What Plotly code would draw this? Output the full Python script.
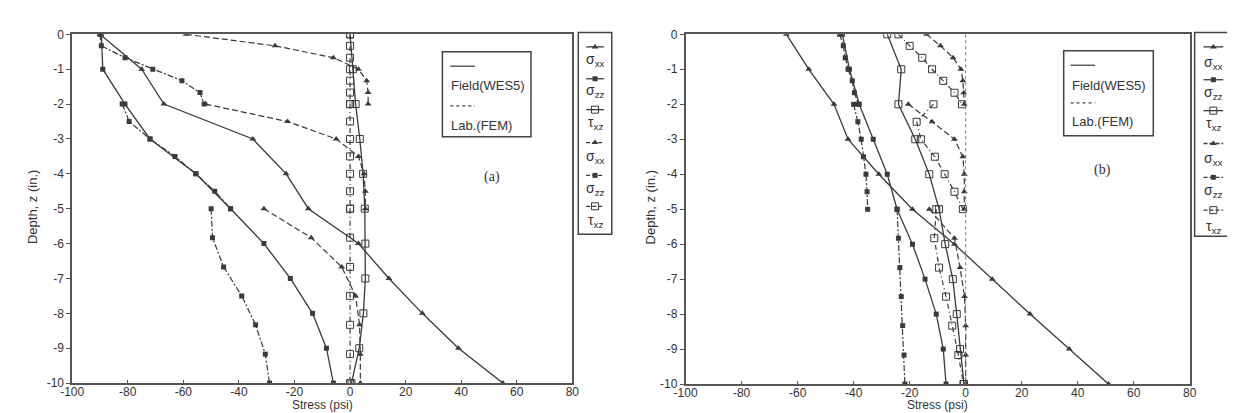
import plotly.graph_objects as go

W, H = 1235, 413

# ---------------- data ----------------
depth_field = [0, -1, -2, -3, -4, -5, -6, -7, -8, -9, -10]
depth_lab_l1 = [0, -0.33, -0.67, -1, -1.33, -1.67, -2]
depth_lab_l2 = [-2, -2.5, -3, -3.5, -4, -4.5, -5]
depth_lab_l3 = [-5, -5.83, -6.67, -7.5, -8.33, -9.17, -10]

# panel (a)
a_field_sxx = [-90, -75, -67, -35, -23, -15, 3, 14, 26, 39, 55]
a_field_szz = [-89.5, -89, -81, -72, -55.5, -43, -31, -21.5, -13.5, -8.5, -6]
a_field_txz = [0, 1, 2, 3.5, 4.7, 5.3, 5.5, 5.5, 4.8, 3.3, 0.5]

a_lab_sxx_l1 = [-59, -27, -6, 3, 6, 6.5, 6.5]
a_lab_sxx_l2 = [-52, -22.5, -5, 3, 5, 5.5, 5.5]
a_lab_sxx_l3 = [-31, -14, -3, 2, 3.4, 3.7, 3.7]
a_lab_szz_l1 = [-90, -89.5, -81, -71, -60.5, -54, -52.5]
a_lab_szz_l2 = [-82, -79.5, -72, -63, -55.5, -48.7, -43]
a_lab_szz_l3 = [-50, -49.5, -45.5, -39, -34, -30.5, -29]
a_lab_txz_l1 = [0, 0, 0, 0, 0, 0, 0]
a_lab_txz_l2 = [0, 0, 0, 0, 0, 0, 0]
a_lab_txz_l3 = [0, 0, 0, 0, 0, 0, 0]

# panel (b)
b_field_sxx = [-64, -56, -47, -42, -31, -19, -4, 9.5, 23, 37, 51]
b_field_szz = [-44, -41.5, -38, -33, -28, -24.5, -19, -14.5, -10.5, -8, -7]
b_field_txz = [-28, -23, -24, -18, -13, -9.5, -7.3, -4.6, -3.2, -2, -0.6]

b_lab_sxx_l1 = [-14, -9, -4.5, -1.7, -1, -0.7, -0.5]
b_lab_sxx_l2 = [-20.5, -12, -4, -1, -0.5, -0.5, -0.5]
b_lab_sxx_l3 = [-13, -4, -2, -0.4, 0, 0, 0]
b_lab_szz_l1 = [-45, -43.7, -43, -42, -40.5, -39.7, -38.3]
b_lab_szz_l2 = [-40, -38.5, -37.3, -36.5, -35.6, -35.2, -35]
b_lab_szz_l3 = [-24.5, -24, -23.5, -23, -22.5, -22, -21.7]
b_lab_txz_l1 = [-24, -20, -15.5, -12, -8, -4, -1.3]
b_lab_txz_l2 = [-11.5, -17.5, -16, -11, -7.5, -4, -1]
b_lab_txz_l3 = [-10.5, -11.2, -9.5, -7, -4.8, -2.6, -0.8]

x_ticks = [-100, -80, -60, -40, -20, 0, 20, 40, 60, 80]
x_tick_labels = ["-100", "-80", "-60", "-40", "-20", "0", "20", "40", "60", "80"]
y_ticks = [0, -1, -2, -3, -4, -5, -6, -7, -8, -9, -10]
y_tick_labels = ["0", "-1", "-2", "-3", "-4", "-5", "-6", "-7", "-8", "-9", "-10"]

legend_labels = ["σ<sub>xx</sub>", "σ<sub>zz</sub>", "τ<sub>xz</sub>",
                 "σ<sub>xx</sub>", "σ<sub>zz</sub>", "τ<sub>xz</sub>"]

# ---------------- styles ----------------
LC = "#3a3a3a"
AX = "#555555"
FONT = "Liberation Sans, Arial, sans-serif"
M_SXX = dict(symbol="triangle-up", size=6, color=LC)
M_SZZ = dict(symbol="square", size=5, color=LC)
M_TXZ = dict(symbol="square-open", size=7, color=LC, line=dict(width=1, color=LC))
D_SXX = "6px,3px"
D_SZZ = "6px,2px,2px,2px"
D_TXZ = "5px,3px,1px,3px"


def layered(l1, l2, l3):
    return l1 + [None] + l2 + [None] + l3


lab_depth = layered(depth_lab_l1, depth_lab_l2, depth_lab_l3)

fig = go.Figure()


def add_panel(xa, ya, fsxx, fszz, ftxz, lsxx, lszz, ltxz):
    for vals, m in ((fsxx, M_SXX), (fszz, M_SZZ), (ftxz, M_TXZ)):
        fig.add_trace(go.Scatter(x=vals, y=depth_field, mode="lines+markers",
                                 line=dict(color=LC, width=1.3), marker=m,
                                 xaxis=xa, yaxis=ya, showlegend=False))
    for vals, m, d in ((lsxx, M_SXX, D_SXX), (lszz, M_SZZ, D_SZZ), (ltxz, M_TXZ, D_TXZ)):
        fig.add_trace(go.Scatter(x=vals, y=lab_depth, mode="lines+markers",
                                 line=dict(color=LC, width=1.2, dash=d), marker=m,
                                 connectgaps=False,
                                 xaxis=xa, yaxis=ya, showlegend=False))


add_panel("x", "y", a_field_sxx, a_field_szz, a_field_txz,
          layered(a_lab_sxx_l1, a_lab_sxx_l2, a_lab_sxx_l3),
          layered(a_lab_szz_l1, a_lab_szz_l2, a_lab_szz_l3),
          layered(a_lab_txz_l1, a_lab_txz_l2, a_lab_txz_l3))
add_panel("x2", "y2", b_field_sxx, b_field_szz, b_field_txz,
          layered(b_lab_sxx_l1, b_lab_sxx_l2, b_lab_sxx_l3),
          layered(b_lab_szz_l1, b_lab_szz_l2, b_lab_szz_l3),
          layered(b_lab_txz_l1, b_lab_txz_l2, b_lab_txz_l3))


def px(x):
    return x / W


def py(y):
    return 1 - y / H


xa_common = dict(range=[-100, 80], tickvals=x_ticks, ticktext=x_tick_labels,
                 ticks="inside", ticklen=3, tickcolor=AX, showline=True, mirror=True,
                 linecolor=AX, linewidth=1.5, showgrid=False, zeroline=False,
                 ticklabelstandoff=-3,
                 tickfont=dict(family=FONT, size=12, color="#333"), fixedrange=True)
ya_common = dict(range=[-10, 0], tickvals=y_ticks, ticktext=y_tick_labels,
                 ticks="outside", ticklen=4, tickcolor=AX, showline=True, mirror=True,
                 linecolor=AX, linewidth=1.5, showgrid=False, zeroline=False,
                 tickfont=dict(family=FONT, size=12, color="#333"), fixedrange=True)

fig.update_layout(
    width=W, height=H,
    margin=dict(l=0, r=0, t=0, b=0),
    paper_bgcolor="white", plot_bgcolor="rgba(0,0,0,0)",
    showlegend=False,
    xaxis=dict(domain=[px(53), px(561)], anchor="y", **xa_common),
    yaxis=dict(domain=[py(381), py(20)], anchor="x", **ya_common),
    xaxis2=dict(domain=[px(676), px(1188)], anchor="y2", **xa_common),
    yaxis2=dict(domain=[py(382), py(20)], anchor="x2", **ya_common),
    xaxis3=dict(domain=[0, 1], range=[0, W], visible=False, anchor="y3", fixedrange=True),
    yaxis3=dict(domain=[0, 1], range=[H, 0], visible=False, anchor="x3", fixedrange=True),
)

shapes = []
annotations = []

# zero reference (dotted) in panel (b)
shapes.append(dict(type="line", xref="x2", yref="y2", x0=0, x1=0, y0=0, y1=-10,
                   line=dict(color="#777", width=1, dash="dot")))

# axis titles
for cx, cy in ((12, 199), (640, 199)):
    annotations.append(dict(text="Depth, z (in.)", x=px(cx), y=py(cy), xref="paper", yref="paper",
                            textangle=-90, showarrow=False, xanchor="center", yanchor="middle",
                            font=dict(family=FONT, size=13, color="#333")))
for cx in (307, 932):
    annotations.append(dict(text="Stress (psi)", x=px(cx), y=py(412.5), xref="paper", yref="paper",
                            showarrow=False, xanchor="center", yanchor="bottom",
                            font=dict(family=FONT, size=12, color="#333")))

# panel labels
annotations.append(dict(text="(a)", x=px(479), y=py(168), xref="paper", yref="paper", showarrow=False,
                        font=dict(family="Liberation Serif, Times New Roman, serif", size=14, color="#333")))
annotations.append(dict(text="(b)", x=px(1110), y=py(160), xref="paper", yref="paper", showarrow=False,
                        font=dict(family="Liberation Serif, Times New Roman, serif", size=14, color="#333")))

# inside legend boxes (Field / Lab)
for (bx0, by0, bx1, by1, lx0, lx1, ly1, ty1, ly2, ty2) in (
        (429, 38, 519, 126, 437, 462, 53, 73, 94, 114),
        (1060, 37, 1151, 125, 1067, 1092, 52, 73, 91, 110)):
    shapes.append(dict(type="rect", xref="paper", yref="paper", x0=px(bx0), x1=px(bx1),
                       y0=py(by1), y1=py(by0), line=dict(color="#444", width=1.5)))
    shapes.append(dict(type="line", xref="paper", yref="paper", x0=px(lx0), x1=px(lx1),
                       y0=py(ly1), y1=py(ly1), line=dict(color="#444", width=1.3)))
    shapes.append(dict(type="line", xref="paper", yref="paper", x0=px(lx0), x1=px(lx1),
                       y0=py(ly2), y1=py(ly2), line=dict(color="#444", width=1.2, dash="dot")))
    annotations.append(dict(text="Field(WES5)", x=px(lx0 - 1), y=py(ty1), xref="paper", yref="paper",
                            showarrow=False, xanchor="left", yanchor="middle",
                            font=dict(family=FONT, size=13, color="#333")))
    annotations.append(dict(text="Lab.(FEM)", x=px(lx0 - 1), y=py(ty2), xref="paper", yref="paper",
                            showarrow=False, xanchor="left", yanchor="middle",
                            font=dict(family=FONT, size=13, color="#333")))

# outside symbol legends
glyph_markers = [M_SXX, M_SZZ, M_TXZ, M_SXX, M_SZZ, M_TXZ]
glyph_dash = ["solid", "solid", "solid", "4px,2px", "4px,2px", "4px,2px"]
for (bx0, by0, bx1, by1, cx, half, sym_y, txt_y) in (
        (567, 18, 601, 227, 584, 9, [33, 66, 98, 132, 166, 198], [47, 79, 112, 147, 180, 213]),
        (1193, 18, 1233, 229, 1212, 10, [33, 67, 99, 133, 168, 202], [50, 81, 113, 149, 182, 219])):
    shapes.append(dict(type="rect", xref="paper", yref="paper", x0=px(bx0), x1=px(bx1),
                       y0=py(by1), y1=py(by0), line=dict(color="#444", width=1.5)))
    for i in range(6):
        fig.add_trace(go.Scatter(x=[cx - half, cx + half], y=[sym_y[i]] * 2,
                                 mode="lines", xaxis="x3", yaxis="y3",
                                 line=dict(color=LC, width=1.3, dash=glyph_dash[i]),
                                 showlegend=False, hoverinfo="skip"))
        fig.add_trace(go.Scatter(x=[cx], y=[sym_y[i]], mode="markers", xaxis="x3", yaxis="y3",
                                 marker=glyph_markers[i], showlegend=False, hoverinfo="skip"))
        annotations.append(dict(text=legend_labels[i], x=px(cx), y=py(txt_y[i]), xref="paper",
                                yref="paper", showarrow=False, xanchor="center", yanchor="middle",
                                font=dict(family=FONT, size=14, color="#333")))

fig.update_layout(shapes=shapes, annotations=annotations)
fig.write_html("out.html")
